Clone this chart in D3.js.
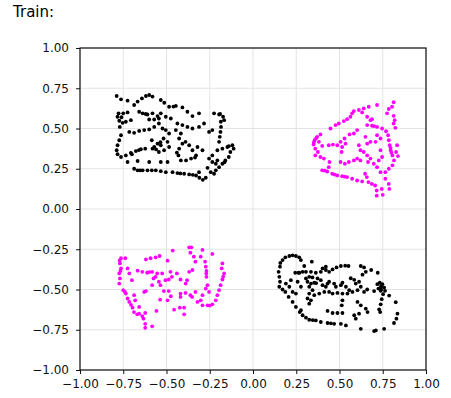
<!DOCTYPE html>
<html>
<head>
<meta charset="utf-8">
<script src="https://cdn.jsdelivr.net/npm/d3@7"></script>
<style>
  body { margin: 0; background: white; }
  text { font-family: "DejaVu Sans", sans-serif; }
</style>
</head>
<body>
<div id="chart-container"></div>
<script>
// tick values, shared by both axes
const tickValues = [-1, -0.75, -0.5, -0.25, 0, 0.25, 0.5, 0.75, 1];

// class 0, upper-left blob
const blackUpper = [
  [-0.788,0.702],[-0.763,0.681],[-0.725,0.673],[-0.687,0.646],[-0.667,0.667],[-0.642,0.687],[-0.619,0.702],[-0.600,0.708],[-0.581,0.698],[-0.533,0.677],[-0.513,0.660],[-0.485,0.635],[-0.446,0.640],[-0.408,0.631],[-0.379,0.604],[-0.350,0.577],[-0.312,0.594],[-0.225,0.594],[-0.196,0.587],[-0.173,0.573],[-0.167,0.552],
  [-0.777,0.594],[-0.783,0.573],[-0.773,0.548],[-0.754,0.535],[-0.735,0.542],[-0.750,0.594],[-0.725,0.600],[-0.706,0.552],
  [-0.658,0.604],[-0.638,0.594],[-0.610,0.587],[-0.581,0.594],[-0.552,0.577],[-0.533,0.594],
  [-0.600,0.556],[-0.571,0.556],[-0.544,0.562],[-0.504,0.573],[-0.475,0.562],
  [-0.715,0.479],[-0.687,0.473],[-0.658,0.485],[-0.629,0.490],[-0.600,0.494],[-0.571,0.510],[-0.544,0.531],[-0.523,0.500],[-0.504,0.490],
  [-0.437,0.531],[-0.408,0.521],[-0.379,0.510],[-0.350,0.500],[-0.312,0.510],[-0.283,0.531],
  [-0.485,0.469],[-0.446,0.490],[-0.417,0.469],
  [-0.186,0.542],[-0.185,0.510],[-0.188,0.479],[-0.192,0.448],[-0.196,0.417],
  [-0.254,0.479],[-0.235,0.490],
  [-0.763,0.458],[-0.773,0.427],[-0.783,0.396],[-0.788,0.365],[-0.783,0.340],[-0.763,0.323],
  [-0.735,0.333],[-0.706,0.348],[-0.677,0.360],[-0.648,0.371],[-0.623,0.375],[-0.581,0.375],
  [-0.585,0.427],[-0.571,0.385],[-0.552,0.406],[-0.533,0.396],[-0.544,0.354],[-0.514,0.365],[-0.494,0.417],[-0.485,0.385],[-0.517,0.438],
  [-0.427,0.438],[-0.408,0.406],[-0.427,0.375],[-0.431,0.333],[-0.417,0.302],[-0.387,0.302],[-0.358,0.313],[-0.329,0.333],[-0.369,0.396],[-0.350,0.365],[-0.321,0.385],[-0.390,0.417],
  [-0.292,0.365],[-0.254,0.313],[-0.235,0.292],[-0.215,0.281],[-0.206,0.302],[-0.235,0.333],
  [-0.206,0.365],[-0.177,0.375],[-0.148,0.385],[-0.119,0.396],[-0.112,0.375],[-0.131,0.354],[-0.140,0.323],[-0.160,0.302],[-0.177,0.281],[-0.196,0.260],[-0.215,0.240],[-0.225,0.219],
  [-0.725,0.292],[-0.667,0.298],[-0.600,0.292],[-0.533,0.292],[-0.494,0.292],
  [-0.687,0.250],[-0.667,0.240],[-0.638,0.240],[-0.610,0.240],[-0.562,0.240],[-0.533,0.235],[-0.504,0.229],[-0.465,0.229],[-0.437,0.223],[-0.398,0.219],[-0.369,0.215],[-0.329,0.208],[-0.310,0.194],[-0.290,0.181],[-0.273,0.194],[-0.312,0.229],
  [-0.263,0.256],[-0.244,0.229],
  [-0.652,0.240],[-0.585,0.240],[-0.420,0.221],[-0.348,0.212],[-0.770,0.510],[-0.760,0.570],[-0.620,0.590],[-0.460,0.636],[-0.190,0.590],
  [-0.700,0.340],[-0.660,0.366],[-0.535,0.415],[-0.560,0.370],[-0.440,0.350],[-0.335,0.320],[-0.165,0.290],[-0.140,0.390]
];

// class 0, lower-right blob
const blackLower = [
  [0.171,-0.317],[0.187,-0.300],[0.210,-0.292],[0.229,-0.288],[0.248,-0.292],[0.267,-0.300],[0.277,-0.317],[0.296,-0.354],[0.340,-0.327],
  [0.156,-0.358],[0.148,-0.390],[0.152,-0.421],[0.156,-0.452],[0.152,-0.483],[0.171,-0.500],[0.187,-0.515],[0.206,-0.546],[0.229,-0.577],[0.248,-0.608],[0.277,-0.629],[0.287,-0.660],[0.306,-0.675],[0.325,-0.688],[0.363,-0.692],[0.392,-0.702],[0.431,-0.708],[0.469,-0.713],[0.508,-0.713],[0.537,-0.723],
  [0.244,-0.396],[0.263,-0.396],[0.287,-0.390],[0.306,-0.390],[0.335,-0.390],[0.363,-0.396],[0.392,-0.390],[0.421,-0.379],[0.440,-0.390],[0.460,-0.375],[0.483,-0.363],[0.508,-0.354],[0.533,-0.352],[0.552,-0.354],[0.421,-0.358],[0.402,-0.369],
  [0.623,-0.354],[0.642,-0.363],[0.652,-0.390],[0.633,-0.408],[0.683,-0.379],[0.721,-0.396],
  [0.306,-0.431],[0.325,-0.421],[0.344,-0.425],[0.373,-0.431],[0.392,-0.442],[0.315,-0.452],[0.335,-0.463],[0.354,-0.458],[0.325,-0.483],[0.344,-0.504],[0.325,-0.525],[0.315,-0.556],[0.354,-0.535],[0.383,-0.525],[0.412,-0.515],[0.431,-0.463],[0.440,-0.452],[0.469,-0.463],[0.479,-0.483],[0.508,-0.473],[0.517,-0.458],[0.537,-0.483],[0.556,-0.504],[0.575,-0.515],[0.604,-0.504],[0.623,-0.483],[0.642,-0.515],[0.660,-0.500],[0.613,-0.452],[0.594,-0.463],[0.440,-0.515],[0.460,-0.525],[0.488,-0.521],[0.517,-0.525],[0.546,-0.525],[0.421,-0.483],[0.402,-0.473],
  [0.248,-0.525],[0.210,-0.483],[0.190,-0.463],[0.219,-0.442],[0.258,-0.452],[0.277,-0.483],[0.229,-0.515],[0.325,-0.588],[0.335,-0.567],
  [0.719,-0.467],[0.733,-0.458],[0.748,-0.467],[0.758,-0.488],[0.738,-0.508],[0.752,-0.529],[0.744,-0.560],[0.738,-0.592],[0.729,-0.623],[0.725,-0.494],[0.763,-0.508],[0.787,-0.538],
  [0.825,-0.579],[0.835,-0.650],[0.829,-0.681],[0.815,-0.708],[0.758,-0.744],[0.710,-0.754],[0.700,-0.758],[0.623,-0.744],
  [0.517,-0.567],[0.513,-0.598],[0.431,-0.633],[0.460,-0.646],[0.488,-0.646],[0.517,-0.646],[0.585,-0.660],[0.594,-0.681],[0.613,-0.650],[0.604,-0.577],[0.623,-0.598],[0.652,-0.619],[0.662,-0.640],
  [0.158,-0.335],[0.270,-0.640],[0.345,-0.690],[0.450,-0.710],[0.565,-0.430],[0.585,-0.440],[0.700,-0.510],[0.740,-0.480],[0.735,-0.640],[0.740,-0.500],[0.268,-0.396],[0.365,-0.460]
];

// class 1, upper-right blob
const magentaUpper = [
  [0.813,0.663],[0.804,0.635],[0.785,0.621],[0.775,0.594],[0.813,0.579],[0.819,0.552],[0.813,0.531],[0.823,0.504],
  [0.717,0.646],[0.669,0.635],[0.640,0.625],[0.612,0.615],[0.583,0.608],[0.573,0.594],[0.563,0.573],[0.544,0.558],[0.525,0.546],[0.496,0.531],[0.477,0.521],[0.448,0.500],[0.631,0.600],[0.660,0.573],[0.679,0.552],[0.688,0.558],
  [0.390,0.463],[0.371,0.448],[0.356,0.427],[0.350,0.400],[0.360,0.375],[0.375,0.354],[0.360,0.333],[0.390,0.323],[0.410,0.313],[0.400,0.392],[0.381,0.417],
  [0.438,0.396],[0.462,0.400],[0.487,0.396],[0.506,0.417],[0.515,0.385],[0.512,0.354],[0.535,0.406],[0.529,0.438],[0.558,0.463],[0.583,0.469],[0.602,0.490],
  [0.660,0.521],[0.688,0.517],[0.717,0.510],[0.746,0.500],[0.769,0.483],[0.781,0.458],[0.785,0.427],[0.790,0.396],[0.796,0.365],[0.806,0.333],[0.815,0.302],[0.806,0.271],[0.785,0.250],[0.765,0.229],
  [0.833,0.396],[0.827,0.354],[0.838,0.329],
  [0.650,0.448],[0.660,0.406],[0.679,0.417],[0.708,0.417],[0.737,0.438],[0.717,0.458],[0.612,0.396],[0.621,0.365],[0.640,0.354],[0.660,0.333],[0.679,0.313],[0.665,0.292],[0.698,0.281],[0.717,0.260],[0.737,0.229],[0.737,0.365],[0.746,0.323],[0.727,0.302],
  [0.506,0.292],[0.531,0.281],[0.554,0.292],[0.583,0.302],[0.602,0.313],[0.621,0.302],
  [0.400,0.240],[0.429,0.233],[0.458,0.219],[0.487,0.208],[0.515,0.204],[0.544,0.198],[0.573,0.188],[0.602,0.177],[0.631,0.171],[0.438,0.260],[0.442,0.292],
  [0.648,0.219],[0.658,0.198],[0.667,0.167],[0.687,0.156],[0.706,0.146],[0.715,0.115],[0.715,0.083],[0.744,0.125],[0.750,0.088],[0.785,0.156],[0.788,0.125],[0.765,0.188],
  [0.415,0.238],[0.472,0.214],[0.530,0.201],[0.365,0.440],[0.352,0.413],[0.700,0.515],[0.795,0.380],[0.800,0.350]
];

// class 1, lower-left blob
const magentaLower = [
  [-0.763,-0.306],[-0.738,-0.306],[-0.769,-0.338],[-0.763,-0.369],[-0.773,-0.400],[-0.769,-0.431],[-0.773,-0.463],[-0.750,-0.504],[-0.735,-0.525],[-0.725,-0.556],[-0.715,-0.577],[-0.696,-0.613],[-0.688,-0.640],[-0.669,-0.654],[-0.633,-0.681],[-0.623,-0.713],[-0.623,-0.738],[-0.583,-0.729],
  [-0.725,-0.369],[-0.715,-0.400],[-0.700,-0.442],[-0.687,-0.535],[-0.681,-0.567],[-0.658,-0.608],[-0.658,-0.650],[-0.623,-0.646],
  [-0.619,-0.313],[-0.592,-0.306],[-0.563,-0.300],[-0.540,-0.292],[-0.494,-0.321],[-0.464,-0.258],[-0.369,-0.238],[-0.356,-0.238],[-0.362,-0.271],[-0.342,-0.296],[-0.333,-0.327],[-0.292,-0.254],[-0.302,-0.296],[-0.277,-0.327],[-0.273,-0.358],[-0.269,-0.385],[-0.269,-0.421],[-0.235,-0.279],
  [-0.177,-0.338],[-0.181,-0.369],[-0.167,-0.400],[-0.177,-0.438],[-0.187,-0.473],[-0.196,-0.504],[-0.206,-0.535],[-0.215,-0.567],[-0.235,-0.592],[-0.263,-0.598],[-0.292,-0.598],[-0.321,-0.577],[-0.263,-0.473],[-0.254,-0.515],[-0.273,-0.494],
  [-0.667,-0.383],[-0.640,-0.390],[-0.612,-0.396],[-0.583,-0.390],[-0.554,-0.400],[-0.525,-0.400],[-0.575,-0.431],[-0.583,-0.473],[-0.563,-0.421],[-0.544,-0.452],[-0.535,-0.473],[-0.506,-0.442],[-0.487,-0.438],[-0.477,-0.390],[-0.469,-0.421],[-0.440,-0.400],[-0.419,-0.438],[-0.381,-0.442],[-0.369,-0.390],[-0.350,-0.379],[-0.389,-0.463],
  [-0.629,-0.515],[-0.619,-0.510],[-0.515,-0.510],[-0.487,-0.510],[-0.419,-0.525],[-0.390,-0.521],[-0.362,-0.535],[-0.333,-0.515],[-0.419,-0.546],[-0.352,-0.546],[-0.537,-0.563],[-0.494,-0.567],[-0.475,-0.542],[-0.302,-0.567],[-0.292,-0.535],
  [-0.558,-0.633],[-0.456,-0.625],[-0.423,-0.613],[-0.398,-0.613],[-0.398,-0.654],
  [-0.771,-0.320],[-0.766,-0.385],[-0.740,-0.515],[-0.705,-0.595],[-0.640,-0.665],[-0.270,-0.400],[-0.172,-0.420],[-0.250,-0.600],[-0.600,-0.392]
];

const series = [
  { points: blackUpper, color: 'black' },
  { points: blackLower, color: 'black' },
  { points: magentaUpper, color: '#ff00ff' },
  { points: magentaLower, color: '#ff00ff' }
];

const width = 451;
const height = 398;
const margin = { top: 48, right: 25, bottom: 28, left: 80 };
const contentWidth = width - margin.left - margin.right;
const contentHeight = height - margin.top - margin.bottom;

const svg = d3.select('#chart-container')
  .append('svg')
  .attr('width', width)
  .attr('height', height)
  .style('background-color', 'white');

svg.append('text')
  .attr('x', 13)
  .attr('y', 17)
  .attr('font-size', 15)
  .attr('fill', 'black')
  .text('Train:');

const g = svg.append('g')
  .attr('transform', `translate(${margin.left}, ${margin.top})`);

const xScale = d3.scaleLinear([-1, 1], [0, contentWidth]);
const yScale = d3.scaleLinear([-1, 1], [contentHeight, 0]);

const fmt = d => d3.format('.2f')(d).replace('-', '\u2212');

// grid
g.append('g')
  .selectAll('line')
  .data(tickValues)
  .enter().append('line')
  .attr('x1', d => xScale(d)).attr('x2', d => xScale(d))
  .attr('y1', 0).attr('y2', contentHeight)
  .attr('stroke', '#e3e3e3');

g.append('g')
  .selectAll('line')
  .data(tickValues)
  .enter().append('line')
  .attr('y1', d => yScale(d)).attr('y2', d => yScale(d))
  .attr('x1', 0).attr('x2', contentWidth)
  .attr('stroke', '#e3e3e3');

// points
series.forEach(s => {
  g.append('g')
    .selectAll('circle')
    .data(s.points)
    .enter().append('circle')
    .attr('cx', d => xScale(d[0]))
    .attr('cy', d => yScale(d[1]))
    .attr('r', 1.9)
    .attr('fill', s.color);
});

// frame
g.append('rect')
  .attr('width', contentWidth)
  .attr('height', contentHeight)
  .attr('fill', 'none')
  .attr('stroke', '#111')
  .attr('stroke-width', 1.2);

const xAxis = d3.axisBottom(xScale).tickValues(tickValues).tickFormat(fmt).tickSize(4).tickPadding(5).tickSizeOuter(0);
const yAxis = d3.axisLeft(yScale).tickValues(tickValues).tickFormat(fmt).tickSize(4).tickPadding(7).tickSizeOuter(0);

const gX = g.append('g')
  .attr('transform', `translate(0, ${contentHeight})`)
  .call(xAxis);
const gY = g.append('g').call(yAxis);

[gX, gY].forEach(a => {
  a.select('.domain').remove();
  a.selectAll('text').attr('font-size', 12).attr('fill', '#111').style('font-family', '"DejaVu Sans", sans-serif');
  a.selectAll('line').attr('stroke', '#111');
});
</script>
</body>
</html>
